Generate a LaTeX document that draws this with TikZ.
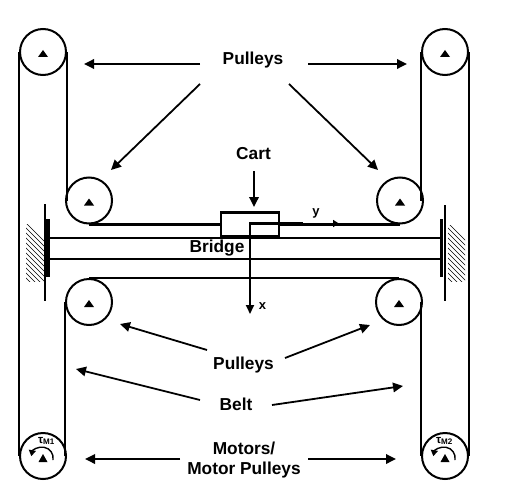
\documentclass[tikz,border=0pt]{standalone}
\usepackage{fontspec}
\setmainfont{Liberation Sans}
\usetikzlibrary{arrows.meta}
\tikzset{
  pulley/.style={circle,draw,line width=2pt,minimum size=46pt,inner sep=0pt},
  hub/.style={fill=black},
  belt/.style={line width=2.1pt},
  rail/.style={line width=1.9pt},
  call/.style={line width=1.8pt,-{Triangle[length=10pt,width=9.5pt]}},
  lab/.style={font=\bfseries\fontsize{17.3}{20}\selectfont,align=center,inner sep=0pt},
  small/.style={font=\bfseries\fontsize{13}{13}\selectfont,inner sep=0pt},
  torque/.style={font=\bfseries\fontsize{11.5}{12}\selectfont,inner sep=0pt},
  hatchline/.style={line width=.6pt},
  plate/.style={line width=2.8pt}
}
\begin{document}
\begin{tikzpicture}[x=1pt,y=-1pt]
\useasboundingbox (0,0) rectangle (521,500);
% pulleys
\node[pulley] (p1) at (43,52) {};
\node[pulley] (p2) at (89,200.5) {};
\node[pulley] (p3) at (400,200.5) {};
\node[pulley] (p4) at (445,52) {};
\node[pulley] (p5) at (89,302) {};
\node[pulley] (p6) at (399,302) {};
\node[pulley] (m1) at (43,456) {};
\node[pulley] (m2) at (445,456) {};
% hubs
\foreach \c in {p1,p2,p3,p4,p5,p6}{
  \fill[hub] ([shift={(-5,5)}]\c.center) -- ([shift={(5,5)}]\c.center) -- ([shift={(0,-2)}]\c.center) -- cycle;
}
\foreach \c in {m1,m2}{
  \fill[hub] ([shift={(-4.5,6)}]\c.center) -- ([shift={(4.5,6)}]\c.center) -- ([shift={(0,-2)}]\c.center) -- cycle;
  \draw[line width=1.4pt,-{Triangle[length=6pt,width=7pt]}] ([shift={(10,4)}]\c.center) arc[start angle=-10,end angle=170,radius=11pt];
}
\node[torque] (t1) at (46.5,441) {τ\textsubscript{M1}};
\node[torque] (t2) at (444.5,441) {τ\textsubscript{M2}};
% belts
\draw[belt] (p1.west) -- (m1.west);
\draw[belt] (p1.east) -- (p1.east |- p2.center);
\draw[belt] (p5.west) -- (p5.west |- m1.center);
\draw[belt] (p4.east) -- (m2.east);
\draw[belt] (p4.west) -- (p4.west |- p3.center);
\draw[belt] (p4.west |- p6.center) -- (p4.west |- m2.center);
\draw[belt] (p2.south) -- (p3.south);
\draw[belt] (p5.north) -- (p6.north);
% hatching
\begin{scope}
\clip (26,224) rectangle (44,281);
\foreach \k in {0,5,...,85}{ \draw[hatchline] (8,{205+\k}) -- (50,{247+\k}); }
\end{scope}
\begin{scope}
\clip (448,225) rectangle (465,281);
\foreach \k in {0,5,...,85}{ \draw[hatchline] (430,{205+\k}) -- (470,{245+\k}); }
\end{scope}
% plates and bridge
\coordinate (la) at (45,204); \coordinate (lb) at (45,301);
\coordinate (ra) at (445,205); \coordinate (rb) at (445,301);
\coordinate (lc) at (48,219); \coordinate (ld) at (48,277);
\coordinate (rc) at (441.5,219); \coordinate (rd) at (441.5,277);
\draw[plate] (la) -- (lb);
\draw[plate] (ra) -- (rb);
\draw[line width=4.5pt] (lc) -- (ld);
\draw[plate] (rc) -- (rd);
\coordinate (b1) at (48,238); \coordinate (b2) at (441,238);
\coordinate (b3) at (48,259); \coordinate (b4) at (441,259);
\draw[rail] (b1) -- (b2);
\draw[rail] (b3) -- (b4);
% cart
\node[draw,line width=2.2pt,fill=white,minimum width=58pt,minimum height=24pt,inner sep=0pt] (cart) at (250,224.5) {};
\draw[line width=3.2pt] (cart.south west) -- (cart.south east);
\coordinate (o) at (250,223.5);
\coordinate (yend) at (339,223.5);
\coordinate (xend) at (250,314);
\coordinate (ythick) at (303,223.5);
\draw[line width=2.4pt] (o |- cart.south) -- (o) -- (ythick);
\draw[line width=1.8pt,-{Triangle[length=6pt,width=7pt]}] (ythick) -- (yend);
\draw[line width=1.8pt,-{Triangle[length=9pt,width=8pt]}] (o) -- (xend);
\node[small] (ylab) at (316,213.5) {y};
\node[small] (xlab) at (262.5,306) {x};
% labels
\node[lab] (lp1) at (253,60) {Pulleys};
\node[lab] (lc1) at (253.5,153.5) {Cart};
\node[lab] (lb1) at (217,248.5) {Bridge};
\node[lab] (lp2) at (243.5,365) {Pulleys};
\node[lab] (lb2) at (236,404.5) {Belt};
\node[lab] (lm) at (244,460) {Motors/\\Motor Pulleys};
% callouts
\coordinate (a1) at (200,64); \coordinate (a2) at (84,64);
\coordinate (a3) at (308,64); \coordinate (a4) at (407,64);
\coordinate (a5) at (200,84); \coordinate (a6) at (111,170);
\coordinate (a7) at (289,84); \coordinate (a8) at (378,170);
\coordinate (a9) at (254,171); \coordinate (a10) at (254,207);
\coordinate (a11) at (207,350); \coordinate (a12) at (120,324);
\coordinate (a13) at (285,358); \coordinate (a14) at (370,325);
\coordinate (a15) at (200,400); \coordinate (a16) at (76,369);
\coordinate (a17) at (272,405); \coordinate (a18) at (403,386);
\coordinate (a19) at (180,459); \coordinate (a20) at (85,459);
\coordinate (a21) at (308,459); \coordinate (a22) at (396,459);
\draw[call] (a1) -- (a2);
\draw[call] (a3) -- (a4);
\draw[call] (a5) -- (a6);
\draw[call] (a7) -- (a8);
\draw[call] (a9) -- (a10);
\draw[call] (a11) -- (a12);
\draw[call] (a13) -- (a14);
\draw[call] (a15) -- (a16);
\draw[call] (a17) -- (a18);
\draw[call] (a19) -- (a20);
\draw[call] (a21) -- (a22);
\end{tikzpicture}
\end{document}
